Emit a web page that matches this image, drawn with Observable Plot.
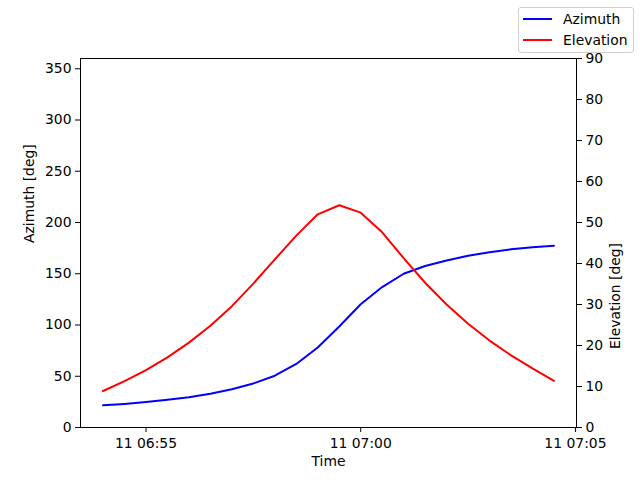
<!DOCTYPE html>
<html>
<head>
<meta charset="utf-8">
<script src="https://cdn.jsdelivr.net/npm/d3@7"></script>
<script src="https://cdn.jsdelivr.net/npm/@observablehq/plot@0.6"></script>
<style>
  body { margin: 0; background: #fff; }
  #wrap { position: relative; width: 640px; height: 480px; font-family: "DejaVu Sans", sans-serif; }
  #legend { position: absolute; left: 518px; top: 7px; width: 116px; height: 46px; box-sizing: border-box;
    border: 1px solid #d0d0d0; border-radius: 3px; background: rgba(255,255,255,0.8); font-size: 13.9px; color: #000; }
  .row { position: absolute; left: 4px; height: 18px; display: flex; align-items: center; }
  .sw { width: 29px; height: 2px; margin-right: 11px; }
</style>
</head>
<body>
<div id="wrap">
  <div id="chart"></div>
  <div id="legend">
    <div class="row" style="top:2px"><div class="sw" style="background:blue"></div>Azimuth</div>
    <div class="row" style="top:23px"><div class="sw" style="background:red"></div>Elevation</div>
  </div>
</div>
<script>
const times = ["06:54:00","06:54:30","06:55:00","06:55:30","06:56:00","06:56:30","06:57:00","06:57:30",
  "06:58:00","06:58:30","06:59:00","06:59:30","07:00:00","07:00:30","07:01:00","07:01:30",
  "07:02:00","07:02:30","07:03:00","07:03:30","07:04:00","07:04:30"];
const azimuth = [21.6, 23, 24.8, 27, 29.5, 33, 37.3, 43, 50.5, 62, 78, 98.5,
  120.3, 137, 150, 157.5, 163, 167.5, 171, 173.8, 175.8, 177.3];
const elevation = [8.9, 11.3, 14.0, 17.1, 20.7, 24.8, 29.6, 35.1, 41.0, 46.8, 52.0, 54.2,
  52.4, 47.6, 41.3, 35.3, 30.0, 25.3, 21.2, 17.6, 14.4, 11.4];
const azTicks = [0, 50, 100, 150, 200, 250, 300, 350];
const elTicks = [0, 10, 20, 30, 40, 50, 60, 70, 80, 90];
const xTicks = ["06:55", "07:00", "07:05"];

const toDate = s => { const [h, m, sec] = s.split(":").map(Number); return new Date(Date.UTC(2024, 0, 11, h, m, sec || 0)); };
const az = times.map((t, i) => ({t: toDate(t), v: azimuth[i]}));
const el = times.map((t, i) => ({t: toDate(t), v: elevation[i] * 4}));
const t0 = toDate(times[0]), t1 = toDate(times[times.length - 1]);
const pad = (t1 - t0) * 0.05;
const fmt = d => "11 " + String(d.getUTCHours()).padStart(2, "0") + ":" + String(d.getUTCMinutes()).padStart(2, "0");

const chart = Plot.plot({
  width: 640, height: 480,
  marginLeft: 80, marginRight: 64, marginTop: 58, marginBottom: 53,
  style: {fontFamily: "DejaVu Sans, sans-serif", fontSize: "13.9px", color: "#000", background: "#fff"},
  x: {type: "utc", domain: [new Date(+t0 - pad), new Date(+t1 + pad)]},
  y: {domain: [0, 360]},
  marks: [
    Plot.axisX({ticks: xTicks.map(toDate), tickFormat: fmt, tickSize: 5, tickPadding: 6, label: null}),
    Plot.axisY({ticks: azTicks, tickSize: 5, tickPadding: 4, label: null}),
    Plot.axisY({anchor: "right", ticks: elTicks.map(d => d * 4), tickFormat: d => d / 4, tickSize: 5, tickPadding: 4, label: null}),
    Plot.lineY(az, {x: "t", y: "v", stroke: "blue", strokeWidth: 2}),
    Plot.lineY(el, {x: "t", y: "v", stroke: "red", strokeWidth: 2}),
    Plot.frame({stroke: "#000", strokeWidth: 1}),
    Plot.text(["Azimuth [deg]"], {frameAnchor: "left", dx: -51, rotate: -90, fontSize: 13.9}),
    Plot.text(["Elevation [deg]"], {frameAnchor: "right", dx: 39, rotate: -90, fontSize: 13.9}),
    Plot.text(["Time"], {frameAnchor: "bottom", dy: 38, fontSize: 13.9})
  ]
});
document.getElementById("chart").appendChild(chart);
</script>
</body>
</html>
